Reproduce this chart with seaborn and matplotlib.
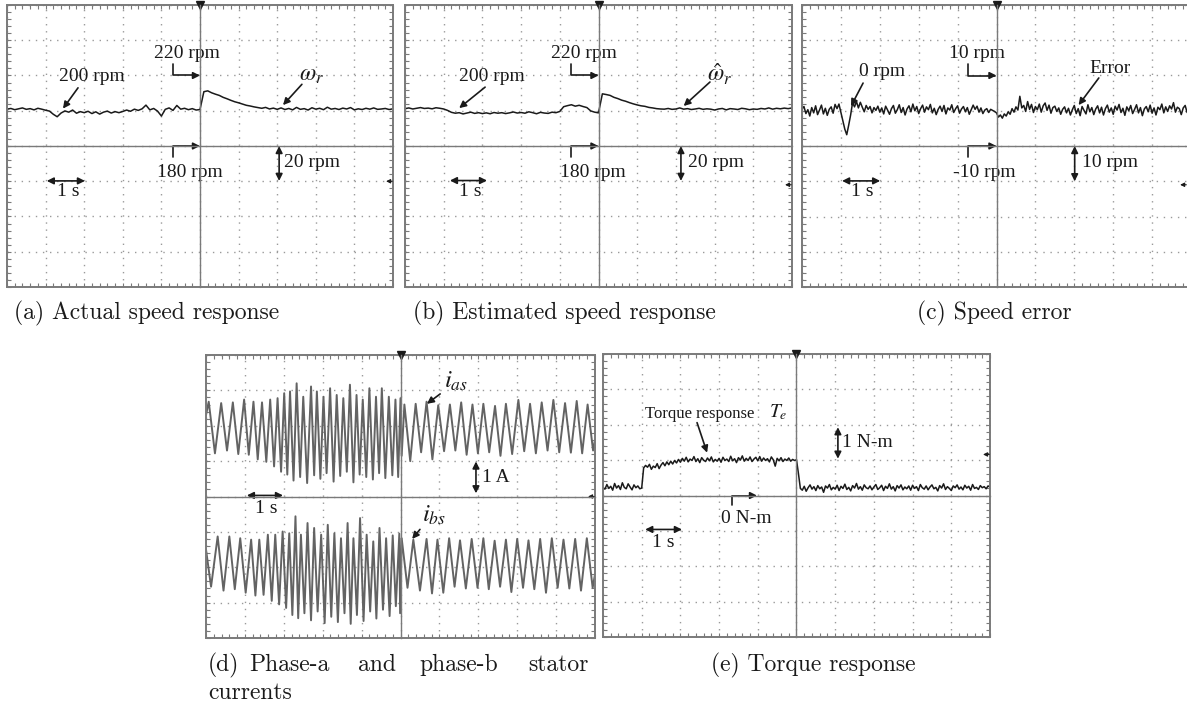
import numpy as np
import matplotlib
matplotlib.use("Agg")
import matplotlib.pyplot as plt
import seaborn as sns
from matplotlib.ticker import MultipleLocator

# ---------------- data ----------------
# (a) actual speed, rpm, sampled every 0.1 s from 0 to 10 s
a_speed = [200.9, 201.3, 200.6, 201.1, 201.6, 200.8, 201.2, 200.5, 201.4, 200.9, 200.3,
           199.8, 198.0, 196.6, 198.7, 199.9, 199.2, 200.4, 198.6, 199.5, 198.9,
           199.7, 198.4, 199.4, 198.1, 199.2, 199.8, 198.7, 199.5, 198.9, 199.6,
           200.4, 199.7, 200.9, 200.2, 201.1, 203.2, 200.5, 201.3, 199.8, 197.0,
           200.8, 201.6, 200.2, 203.0, 200.9, 201.4, 200.6, 201.2, 200.4, 200.7,
           210.8, 211.3, 210.2, 209.4, 208.7, 207.6, 206.8, 205.9, 205.1, 204.5,
           203.8, 203.1, 202.7, 202.2, 201.8, 201.4, 201.9, 201.0, 201.5, 200.8,
           201.6, 200.7, 201.3, 200.5, 201.9, 200.8, 201.2, 200.4, 201.7, 200.9,
           201.4, 200.6, 202.0, 200.9, 201.3, 200.7, 201.5, 201.0, 201.8, 200.5,
           201.1, 200.7, 201.4, 200.9, 201.6, 200.8, 201.0, 201.3, 200.7, 201.1]

# (b) estimated speed, rpm, every 0.1 s
b_speed = [201.2, 201.6, 201.0, 201.4, 201.8, 201.3, 201.5, 201.1, 201.7, 201.4, 201.0,
           200.2, 199.1, 198.6, 198.9, 198.2, 198.7, 199.2, 198.5, 198.9, 198.4,
           198.8, 198.3, 199.0, 198.6, 198.9, 198.4, 198.8, 199.3, 198.7, 199.0,
           198.6, 199.4, 198.9, 198.3, 199.1, 198.7, 198.5, 199.2, 198.9, 199.6,
           202.3, 202.9, 203.4, 202.6, 203.1, 202.4, 201.8, 199.9, 199.2, 198.8,
           209.6, 209.2, 208.7, 207.6, 206.9, 206.0, 205.4, 204.6, 203.9, 203.3,
           202.8, 202.5, 201.9, 201.6, 201.2, 201.0, 200.9, 201.3, 200.8, 201.0,
           201.6, 200.9, 201.2, 200.7, 201.0, 201.4, 200.8, 201.1, 200.9, 200.4,
           201.0, 201.3, 200.5, 201.2, 201.0, 200.7, 201.4, 201.1, 200.6, 201.0,
           200.8, 201.3, 201.0, 201.6, 200.9, 201.4, 201.1, 201.5, 201.2, 201.6]

# (c) speed error, rpm, every 0.05 s
c_error = [0.5, 1.2, -0.8, 0.3, -1.5, 0.9, -0.6, 1.4, -1.1, 0.2, 1.6, -0.9, 0.7, -1.3, 0.4, 1.1, -0.7, 1.8, 0.6, 1.9,
           -0.5, -2.8, -5.2, -6.8, -4.1, -1.2, 2.3, 1.1, 2.6, 0.8, 2.4, 1.0, -0.3, 1.5, 0.4, 1.2, -0.6, 0.9, 0.1, 1.3,
           -0.4, 0.8, -0.9, 1.3, 0.2, -1.0, 0.6, 1.5, -0.7, 0.3, 1.7, -0.5, 0.9, -1.2, 0.5, 1.4, -0.3, 1.9, 0.0, 1.2,
           -0.8, 0.6, 1.6, -0.4, 1.1, 0.3, 1.8, -0.6, 0.7, -1.1, 0.4, 1.3, -0.2, 1.5, -0.9, 0.8, 0.2, 1.7, -0.5, 0.6,
           1.4, -0.7, 0.5, 1.2, -0.3, 0.9, -1.0, 0.3, 1.6, 0.4, 1.3, -0.4, 0.8, -0.8, 0.2, 0.6, -0.5, 0.4, 0.1, -0.2,
           -0.6, -1.8, -1.2, -2.1, -0.9, -1.5, -0.3, -1.0, 0.6, -0.4, 1.1, 0.2, 4.1, 0.8, 1.5, -0.2, 2.6, 0.4, 1.8, -0.5,
           1.2, 0.3, 1.9, -0.4, 1.4, 2.2, 0.1, 1.6, -0.7, 0.9, 1.3, -0.2, 0.8, -1.0, 0.4, 1.1, -0.6, 0.7, -1.2, 0.3,
           1.5, -0.8, 0.6, -1.4, 1.2, 0.1, -0.9, 1.7, -0.3, 0.9, -1.1, 0.5, 1.4, -0.6, 1.0, -1.2, 0.6, 1.6, -0.4, 0.8,
           -1.0, 1.3, 0.2, 1.8, -0.5, 0.7, -1.3, 1.1, 0.0, 1.5, -0.8, 0.4, 1.7, -0.6, 0.9, -1.4, 0.5, 1.2, -0.3, 1.6,
           -0.7, 0.8, -1.2, 1.0, 0.3, 1.9, -0.6, 1.1, -0.2, 1.4, 0.5, 2.3, -0.4, 1.0, 0.6, -1.1, 0.8, 1.5, -0.5, 0.9,
           0.4]

# (d) stator currents: times (s) and values (A, incl. screen offset) of the waveform extrema
ias_t = [0.00, 0.07, 0.23, 0.39, 0.54, 0.69, 0.83, 0.98, 1.10, 1.22,
         1.33, 1.44, 1.55, 1.65, 1.75, 1.84, 1.93, 2.01, 2.09, 2.16,
         2.25, 2.33, 2.42, 2.50, 2.60, 2.70, 2.78, 2.85, 2.94, 3.02,
         3.10, 3.19, 3.28, 3.36, 3.45, 3.53, 3.62, 3.70, 3.79, 3.87,
         3.95, 4.03, 4.12, 4.20, 4.29, 4.37, 4.45, 4.52, 4.61, 4.70,
         4.79, 4.87, 4.94, 5.00, 5.03, 5.10, 5.25, 5.39, 5.53, 5.67,
         5.82, 5.97, 6.12, 6.27, 6.41, 6.56, 6.70, 6.85, 6.99, 7.13,
         7.28, 7.43, 7.57, 7.71, 7.87, 8.03, 8.18, 8.33, 8.48, 8.63,
         8.78, 8.93, 9.08, 9.23, 9.38, 9.53, 9.67, 9.81, 9.95, 10.00]
ias_v = [2.30, 2.68, 1.22, 2.64, 1.30, 2.66, 1.20, 2.74, 1.18, 2.68,
         1.05, 2.66, 0.98, 2.74, 0.85, 2.78, 0.70, 2.92, 0.62, 2.97,
         0.45, 3.20, 0.55, 2.82, 0.38, 3.11, 0.60, 2.97, 0.50, 2.82,
         0.66, 3.06, 0.42, 2.87, 0.58, 2.78, 0.70, 3.16, 0.40, 2.87,
         0.62, 2.74, 0.55, 3.06, 0.48, 2.82, 0.66, 3.06, 0.52, 2.82,
         0.60, 2.74, 0.55, 2.78, 1.15, 2.60, 1.00, 2.62, 1.25, 2.68,
         1.05, 2.58, 1.28, 2.60, 1.30, 2.66, 1.18, 2.60, 1.22, 2.62,
         1.25, 2.56, 1.15, 2.62, 1.20, 2.73, 1.28, 2.62, 1.22, 2.66,
         1.30, 2.73, 1.25, 2.64, 1.24, 2.70, 1.22, 2.60, 1.30, 1.60]
ibs_t = [0.00, 0.13, 0.30, 0.45, 0.60, 0.74, 0.88, 1.02, 1.16, 1.27,
         1.37, 1.48, 1.59, 1.69, 1.78, 1.88, 1.97, 2.06, 2.14, 2.22,
         2.30, 2.37, 2.44, 2.53, 2.61, 2.70, 2.78, 2.87, 2.96, 3.05,
         3.13, 3.22, 3.30, 3.39, 3.47, 3.56, 3.64, 3.72, 3.79, 3.88,
         3.96, 4.05, 4.13, 4.22, 4.30, 4.38, 4.46, 4.55, 4.63, 4.72,
         4.80, 4.88, 4.97, 4.99, 5.03, 5.18, 5.33, 5.50, 5.67, 5.81,
         5.95, 6.10, 6.25, 6.39, 6.53, 6.68, 6.83, 6.98, 7.13, 7.27,
         7.42, 7.56, 7.71, 7.85, 8.00, 8.15, 8.29, 8.44, 8.59, 8.74,
         8.89, 9.04, 9.19, 9.34, 9.49, 9.64, 9.79, 9.94, 10.00]
ibs_v = [-1.50, -2.55, -1.13, -2.66, -1.13, -2.62, -1.18, -2.72, -1.22, -2.80,
         -1.22, -2.78, -1.08, -2.95, -1.08, -3.05, -0.99, -3.15, -1.04, -3.35,
         -0.56, -3.44, -1.08, -3.30, -0.75, -3.50, -0.89, -3.25, -1.08, -3.58,
         -0.80, -3.40, -1.04, -3.55, -1.18, -3.30, -0.75, -3.60, -1.18, -3.35,
         -0.61, -3.52, -1.08, -3.25, -1.27, -3.45, -0.89, -3.20, -1.18, -3.38,
         -1.10, -3.10, -1.05, -3.30, -1.18, -2.58, -1.22, -2.66, -1.20, -2.74,
         -1.22, -2.72, -1.18, -2.55, -1.24, -2.60, -1.20, -2.58, -1.18, -2.62,
         -1.25, -2.55, -1.22, -2.70, -1.20, -2.58, -1.24, -2.62, -1.20, -2.72,
         -1.18, -2.58, -1.22, -2.60, -1.20, -2.66, -1.18, -2.58, -2.20]

# (e) torque, N-m, every 0.05 s
e_torque = [0.22, 0.18, 0.31, 0.20, 0.26, 0.15, 0.34, 0.21, 0.28, 0.17, 0.36, 0.23, 0.19, 0.33, 0.24, 0.16, 0.30, 0.22, 0.27, 0.19,
            0.21, 0.78, 0.85, 0.80, 0.88, 0.74, 0.83, 0.79, 0.90, 0.76, 0.86, 0.93, 0.84, 0.95, 0.87, 0.97, 0.89, 0.99, 0.92, 1.02,
            0.94, 1.05, 0.97, 1.08, 0.95, 1.03, 0.99, 1.10, 0.96, 1.04, 0.93, 1.07, 1.00, 0.96, 1.06, 0.98, 1.09, 0.95, 1.02, 0.97,
            1.05, 0.94, 1.08, 0.99, 1.03, 0.96, 1.11, 0.98, 1.04, 0.93, 1.07, 1.00, 1.12, 0.97, 1.05, 0.99, 1.09, 0.96, 1.03, 1.08,
            0.98, 1.10, 0.97, 1.06, 0.99, 1.04, 0.95, 1.09, 1.01, 0.83, 1.05, 0.98, 1.07, 0.96, 1.03, 0.99, 1.06, 0.97, 1.02, 0.99,
            1.01, 0.62, 0.20, 0.15, 0.26, 0.12, 0.22, 0.30, 0.18, 0.25, 0.14, 0.28, 0.19, 0.24, 0.09, 0.27, 0.21, 0.31, 0.16, 0.23,
            0.18, 0.29, 0.14, 0.26, 0.20, 0.32, 0.17, 0.23, 0.13, 0.28, 0.21, 0.34, 0.18, 0.25, 0.15, 0.30, 0.22, 0.19, 0.27, 0.16,
            0.24, 0.31, 0.17, 0.22, 0.29, 0.14, 0.26, 0.20, 0.33, 0.18, 0.25, 0.13, 0.28, 0.21, 0.30, 0.16, 0.24, 0.19, 0.27, 0.15,
            0.29, 0.20, 0.25, 0.14, 0.31, 0.22, 0.18, 0.27, 0.16, 0.24, 0.30, 0.19, 0.23, 0.13, 0.28, 0.21, 0.33, 0.17, 0.25, 0.20,
            0.14, 0.27, 0.22, 0.30, 0.18, 0.24, 0.16, 0.29, 0.21, 0.26, 0.15, 0.31, 0.20, 0.23, 0.17, 0.28, 0.22, 0.25, 0.19, 0.27,
            0.24]

captions = ["(a) Actual speed response", "(b) Estimated speed response", "(c) Speed error",
            "(d) Phase-a and phase-b stator", "currents", "(e) Torque response"]

# ---------------- style ----------------
sns.set_theme(style="white")
plt.rcParams['font.family'] = ['Liberation Serif', 'DejaVu Serif']
plt.rcParams['mathtext.fontset'] = 'stix'

W, H = 1187, 713
GRAY = '#7a7a7a'
GRID = '#9a9a9a'
TXT = 14
fig = plt.figure(figsize=(W / 100, H / 100), dpi=100)
fig.patch.set_facecolor('white')


def make_panel(x0, y0, x1, y1, ylim, ydiv, name):
    rect = [x0 / W, 1 - y1 / H, (x1 - x0) / W, (y1 - y0) / H]
    ax = fig.add_axes(rect, label=name)
    ax.set_facecolor('white')
    ax.xaxis.set_major_locator(MultipleLocator(1))
    ax.xaxis.set_minor_locator(MultipleLocator(0.2))
    ax.yaxis.set_major_locator(MultipleLocator(ydiv))
    ax.yaxis.set_minor_locator(MultipleLocator(ydiv / 5))
    ax.tick_params(which='both', direction='in', top=True, right=True, bottom=True, left=True,
                   length=3, width=0.8, color=GRAY, labelbottom=False, labelleft=False)
    for s in ax.spines.values():
        s.set_visible(True)
        s.set_color(GRAY)
        s.set_linewidth(1.4)
    ax.xaxis.grid(True, which='major', color=GRID, lw=1.0, linestyle=(0, (1, 4.1)))
    ax.yaxis.grid(True, which='major', color=GRID, lw=1.0, linestyle=(0, (1, 4.1)))
    ax.set_xlim(0, 10)
    ax.set_ylim(*ylim)
    # centre cross with its own small ticks
    axc = fig.add_axes(rect, sharex=ax, sharey=ax, label=name + 'c')
    axc.patch.set_visible(False)
    axc.grid(False)
    ymid = 0.5 * (ylim[0] + ylim[1])
    axc.spines['left'].set_position(('data', 5))
    axc.spines['bottom'].set_position(('data', ymid))
    axc.spines['top'].set_visible(False)
    axc.spines['right'].set_visible(False)
    for k in ('left', 'bottom'):
        axc.spines[k].set_color(GRAY)
        axc.spines[k].set_linewidth(1.0)
    axc.tick_params(which='both', direction='inout', length=6, width=0.8, color=GRAY,
                    labelbottom=False, labelleft=False, top=False, right=False)
    # trigger marker
    ax.plot([0.5], [1.0], marker='v', ms=6, color='k', transform=ax.transAxes, clip_on=False, zorder=6)
    return ax


def arrow(ax, xy, xytext, style='-|>', conn=None):
    props = dict(arrowstyle=style, color='k', lw=1.2, mutation_scale=10, shrinkA=0, shrinkB=0)
    if conn:
        props['connectionstyle'] = conn
    ax.annotate('', xy=xy, xytext=xytext, arrowprops=props, zorder=7)


def label(ax, x, y, s, ha='center', size=TXT):
    ax.text(x, y, s, ha=ha, va='center', fontsize=size, color='k', zorder=7)


def right_marker(ax, y, xr=1.0):
    ax.annotate('', xy=(xr - 0.018, y), xytext=(xr - 0.002, y), xycoords=('axes fraction', 'data'),
                textcoords=('axes fraction', 'data'),
                arrowprops=dict(arrowstyle='-|>', color='k', lw=0.8, mutation_scale=6, shrinkA=0, shrinkB=0))


t01 = np.linspace(0, 10, 101)
t005 = np.linspace(0, 10, 201)
L_CONN = 'angle,angleA=90,angleB=0,rad=0'
LW = 1.1

# ---- (a) ----
ax = make_panel(7, 5, 393, 287, (100, 260), 20, 'a')
sns.lineplot(x=t01, y=a_speed, ax=ax, color='k', linewidth=LW, estimator=None, sort=False, legend=False)
ax.set_xlim(0, 10); ax.set_ylim(100, 260)
label(ax, 4.66, 232.5, '220 rpm')
arrow(ax, (5.0, 220), (4.3, 226.5), conn=L_CONN)
arrow(ax, (5.0, 180), (4.3, 174.0), conn=L_CONN)
label(ax, 4.74, 165.0, '180 rpm')
label(ax, 2.2, 219.7, '200 rpm')
arrow(ax, (1.45, 201.2), (1.84, 213.0))
label(ax, 7.9, 220.0, r'$\omega_r$', size=17)
arrow(ax, (7.15, 203.2), (7.64, 215.0))
arrow(ax, (7.05, 160.2), (7.05, 180.0), style='<|-|>')
label(ax, 7.18, 170.4, '20 rpm', ha='left')
arrow(ax, (2.02, 160.2), (1.03, 160.2), style='<|-|>')
label(ax, 1.58, 154.0, '1 s')
right_marker(ax, 160)

# ---- (b) ----
ax = make_panel(405, 5, 792, 287, (100, 260), 20, 'b')
sns.lineplot(x=t01, y=b_speed, ax=ax, color='k', linewidth=LW, estimator=None, sort=False, legend=False)
ax.set_xlim(0, 10); ax.set_ylim(100, 260)
label(ax, 4.62, 232.5, '220 rpm')
arrow(ax, (5.0, 220), (4.29, 226.5), conn=L_CONN)
arrow(ax, (5.0, 180), (4.29, 174.0), conn=L_CONN)
label(ax, 4.86, 165.0, '180 rpm')
label(ax, 2.24, 219.7, '200 rpm')
arrow(ax, (1.40, 201.5), (2.07, 213.4))
label(ax, 8.13, 220.5, r'$\hat{\omega}_r$', size=17)
arrow(ax, (7.2, 202.7), (7.88, 216.3))
arrow(ax, (7.13, 160.2), (7.13, 180.0), style='<|-|>')
label(ax, 7.3, 170.4, '20 rpm', ha='left')
arrow(ax, (2.12, 160.4), (1.16, 160.4), style='<|-|>')
label(ax, 1.68, 154.0, '1 s')
right_marker(ax, 158)

# ---- (c) ----
ax = make_panel(802, 5, 1191, 287, (-50, 30), 10, 'c')
sns.lineplot(x=t005, y=c_error, ax=ax, color='k', linewidth=LW, estimator=None, sort=False, legend=False)
ax.set_xlim(0, 10); ax.set_ylim(-50, 30)
label(ax, 4.51, 16.2, '10 rpm')
arrow(ax, (5.0, 10), (4.28, 13.2), conn=L_CONN)
arrow(ax, (5.0, -10), (4.28, -13.0), conn=L_CONN)
label(ax, 4.69, -17.5, '-10 rpm')
label(ax, 2.06, 11.0, '0 rpm')
arrow(ax, (1.26, 1.3), (1.57, 7.85))
label(ax, 7.91, 12.1, 'Error')
arrow(ax, (7.11, 1.6), (7.63, 9.3))
arrow(ax, (7.01, -20.0), (7.01, -10.0), style='<|-|>')
label(ax, 7.19, -14.8, '10 rpm', ha='left')
arrow(ax, (2.01, -19.9), (1.03, -19.9), style='<|-|>')
label(ax, 1.55, -23.0, '1 s')
right_marker(ax, -21.0, xr=0.99)

# ---- (d) ----
ax = make_panel(206, 355, 595, 638, (-4, 4), 1, 'd')
sns.lineplot(x=ias_t, y=ias_v, ax=ax, color='#636363', linewidth=1.4, estimator=None, sort=False, legend=False)
sns.lineplot(x=ibs_t, y=ibs_v, ax=ax, color='#636363', linewidth=1.4, estimator=None, sort=False, legend=False)
ax.set_xlim(0, 10); ax.set_ylim(-4, 4)
label(ax, 6.42, 3.25, r'$i_{as}$', size=18)
arrow(ax, (5.68, 2.62), (6.02, 2.90))
label(ax, 5.85, -0.52, r'$i_{bs}$', size=18)
arrow(ax, (5.3, -1.2), (5.5, -0.93))
arrow(ax, (6.94, 0.09), (6.94, 0.99), style='<|-|>')
label(ax, 7.1, 0.55, '1 A', ha='left')
arrow(ax, (1.98, 0.03), (1.05, 0.03), style='<|-|>')
label(ax, 1.56, -0.33, '1 s')
right_marker(ax, 0.0)

# ---- (e) ----
ax = make_panel(603, 354, 990, 637, (-4, 4), 1, 'e')
sns.lineplot(x=t005, y=e_torque, ax=ax, color='k', linewidth=LW, estimator=None, sort=False, legend=False)
ax.set_xlim(0, 10); ax.set_ylim(-4, 4)
label(ax, 2.5, 2.31, 'Torque response', size=12)
label(ax, 4.52, 2.36, r'$T_e$', size=14)
arrow(ax, (2.69, 1.21), (2.43, 2.06))
arrow(ax, (6.07, 1.04), (6.07, 1.93), style='<|-|>')
label(ax, 6.18, 1.5, '1 N-m', ha='left')
arrow(ax, (3.98, 0.0), (3.33, -0.27), conn=L_CONN)
label(ax, 3.7, -0.66, '0 N-m')
arrow(ax, (2.04, -0.96), (1.09, -0.96), style='<|-|>')
label(ax, 1.55, -1.33, '1 s')
right_marker(ax, 1.16)

# ---------------- captions ----------------
CAP = dict(fontsize=17, family=['cmr10', 'DejaVu Serif'], va='center', ha='left', color='k')
fig.text(14 / W, 1 - 313 / H, captions[0], **CAP)
fig.text(413 / W, 1 - 313 / H, captions[1], **CAP)
fig.text(917 / W, 1 - 313 / H, captions[2], **CAP)
# justified first line of (d)
d_words = captions[3].split(' ')
d_x = [208, 249, 358, 419, 528]
for wd, xp in zip(d_words, d_x):
    fig.text(xp / W, 1 - 665 / H, wd, **CAP)
fig.text(208 / W, 1 - 693 / H, captions[4], **CAP)
fig.text(711 / W, 1 - 665 / H, captions[5], **CAP)

fig.savefig('out.png', dpi=100, facecolor='white')
